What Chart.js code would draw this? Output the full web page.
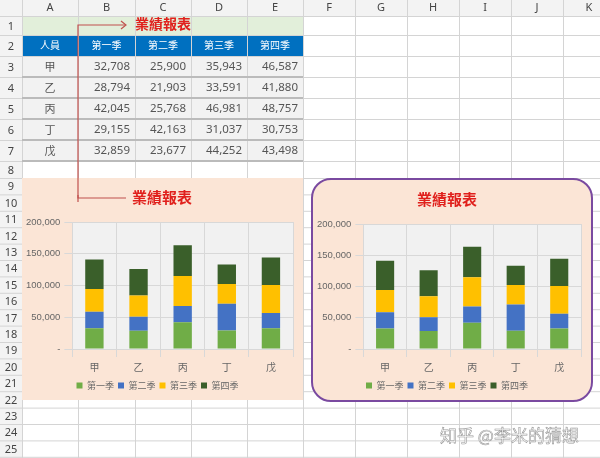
<!DOCTYPE html>
<html><head><meta charset="utf-8">
<script src="https://cdn.jsdelivr.net/npm/chart.js@4"></script>
<style>
body{margin:0;width:600px;height:458px;overflow:hidden;background:#fff;font-family:"Noto Sans CJK TC","Noto Sans",sans-serif;position:relative}
#grid{position:absolute;left:0;top:0}
.box{position:absolute}
</style></head><body>
<canvas id="grid" width="600" height="458"></canvas>
<div class="box" style="left:22px;top:178px;width:281px;height:222px;background:#fbe5d6">
  <canvas id="c1" width="281" height="222"></canvas>
</div>
<div class="box" style="left:311px;top:178px;width:282px;height:224px;background:#fbe5d6;border:2px solid #7a4aa0;border-radius:20px;box-sizing:border-box;overflow:hidden">
  <canvas id="c2" width="278" height="220"></canvas>
</div>
<svg style="position:absolute;left:0;top:0" width="600" height="458">
  <polyline points="78,202 78,25 125,25" fill="none" stroke="#c0504d" stroke-width="1.2"/>
  <polyline points="121,21 126,25 121,29" fill="none" stroke="#c0504d" stroke-width="1.2"/>
  <polyline points="78,195 78,198 126,198" fill="none" stroke="#c0504d" stroke-width="1.2"/>
  <text x="135" y="29" fill="#e0201c" font-size="14" font-weight="bold" font-family="Noto Sans CJK TC">業績報表</text>
  <text x="132" y="203" fill="#e0201c" font-size="15" font-weight="bold" font-family="Noto Sans CJK TC">業績報表</text>
  <text x="440" y="442" fill="#fff" stroke="#999" stroke-width="0.6" font-size="17" font-family="Noto Sans CJK SC">知乎 @李米的猜想</text>
</svg>
<script>
const people = ['甲', '乙', '丙', '丁', '戊'];
const quarters = ['第一季', '第二季', '第三季', '第四季'];
const q1 = [32708, 28794, 42045, 29155, 32859];
const q2 = [25900, 21903, 25768, 42163, 23677];
const q3 = [35943, 33591, 46981, 31037, 44252];
const q4 = [46587, 41880, 48757, 30753, 43498];
const colors = ['#70ad47', '#4472c4', '#ffc000', '#3a5f2a'];
const cols = ['A','B','C','D','E','F','G','H','I','J','K'];

// spreadsheet grid
const colX = [22,78,135,191,247,303,355,407,459,511,563,615];
const rowY = [16,35,56,77,98,119,140,161,178];
for (let i = 9; i <= 25; i++) rowY.push(178 + (i - 8) * 16.4);
const g = document.getElementById('grid').getContext('2d');
g.fillStyle = '#f3f3f3'; g.fillRect(0, 0, 600, 16); g.fillRect(0, 0, 22, 458);
g.fillStyle = '#e2efda'; g.fillRect(22, 16, 281, 19);
g.fillStyle = '#0070c0'; g.fillRect(22, 35, 281, 21);
g.fillStyle = '#f2f2f2'; g.fillRect(22, 56, 281, 105);
g.strokeStyle = '#d4d4d4'; g.lineWidth = 1;
colX.forEach(x => { g.beginPath(); g.moveTo(x + .5, 0); g.lineTo(x + .5, 458); g.stroke(); });
rowY.forEach(y => { g.beginPath(); g.moveTo(0, y + .5); g.lineTo(600, y + .5); g.stroke(); });
g.strokeStyle = '#bbb'; g.lineWidth = 2;
for (let r = 3; r <= 7; r++) { g.beginPath(); g.moveTo(22, rowY[r]); g.lineTo(303, rowY[r]); g.stroke(); }
g.fillStyle = '#444'; g.font = '11px "Noto Sans"'; g.textAlign = 'center'; g.textBaseline = 'middle';
cols.forEach((c, i) => g.fillText(c, (colX[i] + colX[i + 1]) / 2, 8));
for (let r = 1; r < rowY.length; r++) g.fillText(r, 11, (rowY[r - 1] + rowY[r]) / 2 + 1);
g.font = '10px "Noto Sans CJK TC"'; g.fillStyle = '#fff';
['人員'].concat(quarters).forEach((t, i) => g.fillText(t, (colX[i] + colX[i + 1]) / 2, 45.5));
const series = [q1, q2, q3, q4];
people.forEach((p, r) => {
  const y = (rowY[r + 2] + rowY[r + 3]) / 2;
  g.fillStyle = '#555'; g.textAlign = 'center'; g.font = '11px "Noto Sans CJK TC"';
  g.fillText(p, 50, y);
  g.textAlign = 'right'; g.font = '11.5px "Noto Sans"';
  series.forEach((s, k) => g.fillText(s[r].toLocaleString('en-US'), colX[k + 2] - 5, y));
});

const plotBg = {
  id: 'plotBg',
  beforeDraw(chart) {
    const a = chart.chartArea, ctx = chart.ctx;
    ctx.save(); ctx.fillStyle = '#f1f1f1'; ctx.fillRect(a.left, a.top, a.width, a.height); ctx.restore();
  }
};

function makeChart(id, withTitle, padTop) {
  return new Chart(document.getElementById(id), {
    type: 'bar',
    data: {
      labels: people,
      datasets: quarters.map((q, k) => ({ label: q, data: series[k], backgroundColor: colors[k], barPercentage: 0.8, categoryPercentage: 0.52 }))
    },
    plugins: [plotBg],
    options: {
      responsive: false, animation: false,
      layout: { padding: { top: padTop, right: 10, left: 0, bottom: 0 } },
      plugins: {
        title: { display: withTitle, text: '業績報表', color: '#e0201c', font: { size: 15, weight: 'bold', family: 'Noto Sans CJK TC' }, padding: { top: 10, bottom: 16 } },
        legend: { position: 'bottom', labels: { boxWidth: 6, boxHeight: 6, padding: 4, color: '#666', font: { size: 9, family: 'Noto Sans CJK TC' } } },
        tooltip: { enabled: false }
      },
      scales: {
        x: { stacked: true, grid: { color: '#d8d8d8' }, border: { display: false }, ticks: { color: '#666', padding: 4, font: { size: 10, family: 'Noto Sans CJK TC' } } },
        y: { stacked: true, min: 0, max: 200000, grid: { color: '#d8d8d8' }, border: { display: false },
             ticks: { stepSize: 50000, color: '#666', font: { size: 9.5 }, padding: 4, callback: v => v === 0 ? '-' : v.toLocaleString('en-US') } }
      }
    }
  });
}
makeChart('c1', false, 44);
makeChart('c2', true, 0);
</script>
</body></html>
